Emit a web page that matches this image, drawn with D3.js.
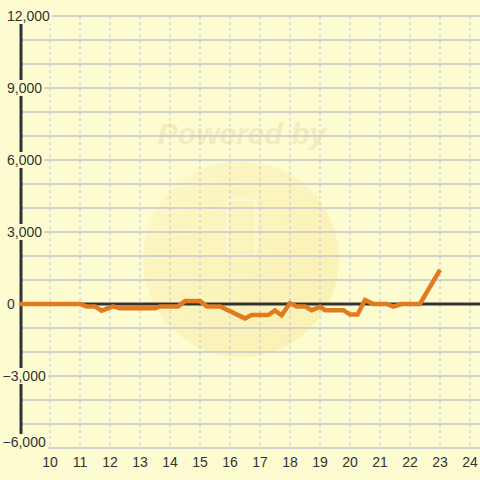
<!DOCTYPE html>
<html>
<head>
<meta charset="utf-8">
<script src="https://cdn.jsdelivr.net/npm/d3@7"></script>
<style>
  html, body { margin: 0; padding: 0; background: #fcfcd0; }
  svg { display: block; }
</style>
</head>
<body>
<svg id="chart" width="480" height="480"></svg>
<script>
// ---- data ----
const xValues = [9.0, 11.0, 11.22, 11.5, 11.72, 12.1, 12.33, 13.5, 13.67, 14.27, 14.5, 15.0, 15.23, 15.67,
  16.5, 16.72, 17.28, 17.5, 17.72, 18.0, 18.22, 18.5, 18.72, 19.0, 19.17, 19.78, 20.0, 20.25,
  20.5, 20.78, 21.22, 21.44, 21.72, 22.33, 23.0];
const yValues = [0, 0, -100, -100, -280, -100, -180, -180, -100, -100, 120, 120, -100, -100,
  -600, -460, -460, -270, -470, 30, -100, -100, -260, -120, -260, -260, -440, -440,
  170, 0, 0, -110, 0, 0, 1420];
const xTicks = [10, 11, 12, 13, 14, 15, 16, 17, 18, 19, 20, 21, 22, 23, 24];
const yLabelTicks = [12000, 9000, 6000, 3000, 0, -3000, -6000];
const yGridTicks = [12000, 11000, 10000, 9000, 8000, 7000, 6000, 5000, 4000, 3000, 2000, 1000,
  0, -1000, -2000, -3000, -4000, -5000, -6000];

const BG = "#fcfcd0";
const svg = d3.select("#chart");
const x = d3.scaleLinear().domain([10, 24]).range([50, 470]);
const y = d3.scaleLinear().domain([-6000, 12000]).range([448, 16]);

svg.append("rect").attr("width", 480).attr("height", 480).attr("fill", BG);

// watermark
const defs = svg.append("defs");
const grad = defs.append("linearGradient").attr("id", "wm").attr("x1", "0").attr("y1", "0").attr("x2", "1").attr("y2", "1");
grad.append("stop").attr("offset", "0").attr("stop-color", "#fcf6c4");
grad.append("stop").attr("offset", "1").attr("stop-color", "#f9eeac");
svg.append("circle").attr("cx", 241).attr("cy", 259).attr("r", 98).attr("fill", "url(#wm)").attr("opacity", 0.85);
svg.append("text").attr("x", 242).attr("y", 144).attr("text-anchor", "middle")
  .attr("font-family", "Liberation Sans, Arial, sans-serif").attr("font-weight", "bold").attr("font-style", "italic")
  .attr("font-size", 30).attr("fill", "#f3ecbc").text("Powered by");
svg.append("rect").attr("x", 227).attr("y", 200).attr("width", 29).attr("height", 55).attr("rx", 3)
  .attr("fill", "none").attr("stroke", "#fdfbe6").attr("stroke-width", 1.5).attr("opacity", 0.8);

// horizontal grid
svg.append("g").selectAll("line").data(yGridTicks.filter(d => d !== 0)).join("line")
  .attr("x1", 22).attr("x2", 480)
  .attr("y1", d => y(d)).attr("y2", d => y(d))
  .attr("stroke", "#c6c6ce").attr("stroke-width", 1.3);

// vertical dashed grid
svg.append("g").selectAll("line").data(xTicks).join("line")
  .attr("x1", d => x(d)).attr("x2", d => x(d))
  .attr("y1", y(12000)).attr("y2", y(-6000))
  .attr("stroke", "#c4c4cc").attr("stroke-width", 1).attr("stroke-dasharray", "3,3");

// y axis line
svg.append("line").attr("x1", 21).attr("x2", 21).attr("y1", y(12000)).attr("y2", y(-6000))
  .attr("stroke", "#333").attr("stroke-width", 3);

// zero line
svg.append("line").attr("x1", 20).attr("x2", 480).attr("y1", y(0)).attr("y2", y(0))
  .attr("stroke", "#333").attr("stroke-width", 3);

// y labels with background boxes
const fmt = d3.format(",");
const yl = svg.append("g");
yLabelTicks.forEach(v => {
  let cy = y(v);
  if (v === -6000) cy = 442;
  const t = yl.append("text")
    .attr("x", v < 0 ? 2.5 : 7).attr("y", cy).attr("dy", "0.35em")
    .attr("font-family", "Liberation Sans, Arial, sans-serif").attr("font-size", 14)
    .attr("fill", "#333").text(fmt(v));
  const bb = t.node().getBBox();
  yl.insert("rect", "text").attr("x", 0).attr("y", cy - 8)
    .attr("width", bb.x + bb.width + 2).attr("height", 16).attr("fill", BG);
});

// x labels
svg.append("g").selectAll("text").data(xTicks).join("text")
  .attr("x", d => x(d)).attr("y", 462).attr("dy", "0.35em").attr("text-anchor", "middle")
  .attr("font-family", "Liberation Sans, Arial, sans-serif").attr("font-size", 14)
  .attr("fill", "#333").text(d => d);

// data line
const pts = xValues.map((v, i) => [v, yValues[i]]);
svg.append("path").datum(pts)
  .attr("d", d3.line().x(d => x(d[0])).y(d => y(d[1])))
  .attr("fill", "none").attr("stroke", "#e07b22").attr("stroke-width", 4.5)
  .attr("stroke-linejoin", "miter").attr("stroke-linecap", "butt");
</script>
</body>
</html>
